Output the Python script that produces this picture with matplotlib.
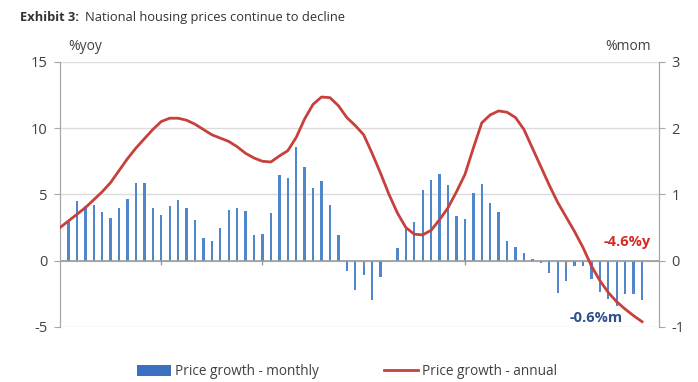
import numpy as np
import matplotlib
matplotlib.use("Agg")
import matplotlib.pyplot as plt
from matplotlib.patches import Patch
from matplotlib.lines import Line2D

plt.rcParams['font.family'] = ['Open Sans', 'DejaVu Sans']
plt.rcParams['axes.unicode_minus'] = False

# ---------------- data ----------------
years = ["2013", "2014", "2015", "2016", "2017", "2018"]
# month index 0 = Jan 2013 ... 69 = Oct 2018
annual_yoy = [2.5, 3.0, 3.5, 4.0, 4.6, 5.2, 5.9, 6.8, 7.7, 8.5, 9.2, 9.9,
              10.5, 10.75, 10.75, 10.6, 10.3, 9.9, 9.5, 9.25, 9.0, 8.6, 8.1, 7.75,
              7.5, 7.45, 7.9, 8.3, 9.3, 10.7, 11.8, 12.35, 12.3, 11.7, 10.8, 10.2,
              9.5, 8.1, 6.6, 5.0, 3.6, 2.5, 2.0, 1.95, 2.3, 3.1, 4.0, 5.2,
              6.5, 8.5, 10.4, 11.0, 11.3, 11.2, 10.8, 9.9, 8.5, 7.1, 5.7, 4.4,
              3.3, 2.2, 1.0, -0.4, -1.5, -2.4, -3.1, -3.65, -4.15, -4.6]
monthly_mom = [np.nan, 0.58, 0.90, 0.82, 0.84, 0.73, 0.65, 0.79, 0.93, 1.18, 1.17, 0.80,
               0.69, 0.83, 0.91, 0.79, 0.61, 0.35, 0.30, 0.49, 0.77, 0.79, 0.75, 0.39,
               0.40, 0.72, 1.29, 1.25, 1.72, 1.41, 1.10, 1.21, 0.84, 0.39, -0.15, -0.44,
               -0.21, -0.60, -0.25, 0.0, 0.19, 0.48, 0.58, 1.06, 1.22, 1.31, 1.14, 0.67,
               0.63, 1.02, 1.15, 0.87, 0.73, 0.30, 0.20, 0.12, 0.03, -0.04, -0.18, -0.49,
               -0.30, -0.08, -0.08, -0.27, -0.47, -0.58, -0.68, -0.50, -0.50, -0.59]
yoy_label = "-4.6%y"
mom_label = "-0.6%m"

months = np.arange(len(annual_yoy))
year_pos = np.arange(len(years)) * 12

# ---------------- figure ----------------
fig = plt.figure(figsize=(6.98, 3.82), dpi=100)
ax = fig.add_axes([0.086, 0.144, 0.858, 0.694])   # host: monthly (%mom), ticks on right
ax2 = ax.twinx()                                     # twin: annual (%yoy), ticks on left

grey = '#a6a6a6'
txt = '#404040'

ax.set_xlim(0, 71)
ax.set_ylim(-1, 3)
ax.set_yticks([-1, 0, 1, 2, 3])
ax2.set_ylim(-5, 15)
ax2.set_yticks([-5, 0, 5, 10, 15])

# grid
ax.yaxis.grid(True, color='#dcdcdc', linewidth=1.0)
ax.set_axisbelow(True)

# bars
ax.bar(months, monthly_mom, width=0.28, color='#4f86cc', zorder=2)
ax.axhline(0, color='#9a9a9a', linewidth=1.2, zorder=3)
ax.vlines(year_pos[1:], -0.06, 0, color='#9a9a9a', linewidth=1.0, zorder=3)

# line
ax2.plot(months, annual_yoy, color='#c8403c', linewidth=2.0, zorder=4)

# axes styling
ax.yaxis.tick_right()
ax2.yaxis.tick_left()
for a in (ax, ax2):
    for s in ('top', 'bottom'):
        a.spines[s].set_visible(False)
    a.spines['left'].set_color(grey)
    a.spines['right'].set_color(grey)
ax.tick_params(axis='y', colors=txt, labelsize=10.5, length=4, color=grey, pad=5)
ax2.tick_params(axis='y', colors=txt, labelsize=10.5, length=4, color=grey, pad=5)

ax.set_xticks(year_pos)
ax.set_xticklabels(years)
ax.tick_params(axis='x', length=0, colors=txt, labelsize=10.5, pad=7)
ax2.set_xticks([])

# unit labels
fig.text(0.098, 0.868, "%yoy", fontsize=10, color=txt)
fig.text(0.932, 0.868, "%mom", fontsize=10, color=txt, ha='right')

# title
t1 = fig.text(0.029, 0.945, "Exhibit 3:", fontsize=9.3, fontweight='bold', color='#333333')
fig.canvas.draw()
bb = t1.get_window_extent(renderer=fig.canvas.get_renderer())
x_next = (bb.x1 + 6) / fig.bbox.width
fig.text(x_next, 0.945, "National housing prices continue to decline", fontsize=9.3, color='#333333')

# annotations
ax2.text(67.3, 1.4, yoy_label, ha='center', va='center', fontsize=10.5,
         fontweight='bold', color='#d42a24', zorder=5)
ax.text(63.6, -0.86, mom_label, ha='center', va='center', fontsize=10.5,
        fontweight='bold', color='#2c4f8e', zorder=5)

# legend
handles = [Patch(facecolor='#3b6fbf', edgecolor='none'),
           Line2D([0], [0], color='#c8403c', linewidth=2)]
fig.legend(handles, ["Price growth - monthly", "Price growth - annual"],
           loc='lower center', bbox_to_anchor=(0.497, -0.025), ncol=2, frameon=False,
           fontsize=9.8, labelcolor=txt, handlelength=2.5, handleheight=0.9,
           columnspacing=4.8, handletextpad=0.3)

fig.savefig("out.png", dpi=100)
